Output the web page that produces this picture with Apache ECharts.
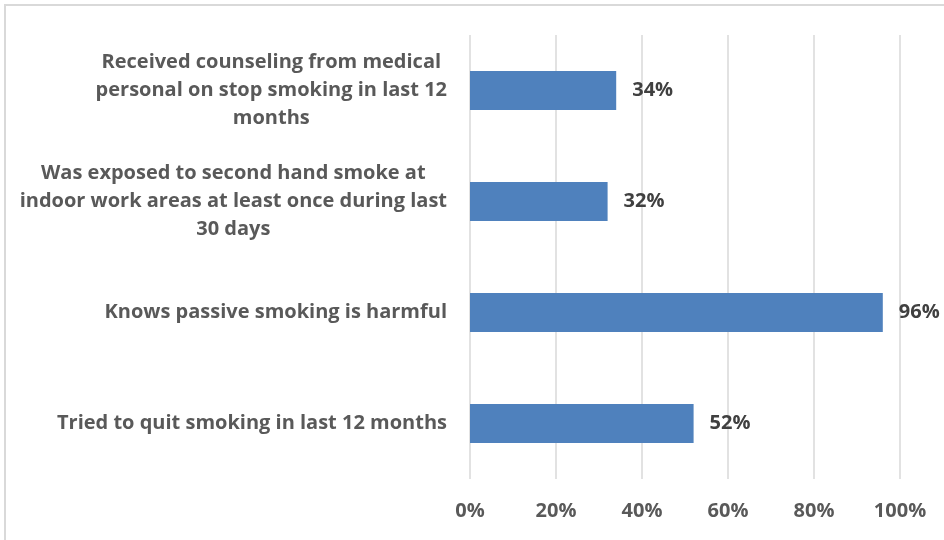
<!DOCTYPE html>
<html>
<head>
<meta charset="utf-8">
<script src="https://cdn.jsdelivr.net/npm/echarts@6/dist/echarts.min.js"></script>
<style>
  html, body { margin: 0; padding: 0; background: #fff; }
  #chart { width: 944px; height: 540px; }
</style>
</head>
<body>
<div id="chart"></div>
<script>
// categories top to bottom, line breaks as wrapped in the picture
const categories = [
  'Received counseling from medical\npersonal on stop smoking in last 12\nmonths',
  'Was exposed to second hand smoke at\nindoor work areas at least once during last\n30 days',
  'Knows passive smoking is harmful',
  'Tried to quit smoking in last 12 months'
]
const values = [34, 32, 96, 52]
const xTicks = [0, 20, 40, 60, 80, 100]

const fontFamily = '"Open Sans", sans-serif'

const chart = echarts.init(document.getElementById('chart'))

chart.setOption({
  animation: false,
  graphic: [{
    type: 'rect',
    shape: { x: 5, y: 5, width: 960, height: 560 },
    style: { fill: 'none', stroke: '#d9d9d9', lineWidth: 2 },
    silent: true
  }],
  grid: {
    left: 470,
    right: 44,
    top: 35,
    bottom: 61
  },
  xAxis: {
    type: 'value',
    min: xTicks[0],
    max: xTicks[xTicks.length - 1],
    interval: 20,
    axisLine: { show: false },
    axisTick: { show: false },
    splitLine: { lineStyle: { color: '#d9d9d9', width: 1.5 } },
    axisLabel: {
      margin: 22,
      color: '#595959',
      fontFamily: fontFamily,
      fontWeight: 'bold',
      fontSize: 20,
      formatter: v => v + '%'
    }
  },
  yAxis: {
    type: 'category',
    inverse: true,
    data: categories,
    axisLine: { show: false },
    axisTick: { show: false },
    axisLabel: {
      margin: 23,
      align: 'right',
      formatter: v => v.split('\n').map(l => '{c|' + l + '}').join('\n'),
      rich: {
        c: {
          align: 'center',
          color: '#595959',
          fontFamily: fontFamily,
          fontWeight: 'bold',
          fontSize: 20,
          lineHeight: 28
        }
      }
    }
  },
  series: [{
    type: 'bar',
    data: values,
    barWidth: 39,
    itemStyle: { color: '#4f81bd' },
    label: {
      show: true,
      position: 'right',
      distance: 16,
      color: '#404040',
      fontFamily: fontFamily,
      fontWeight: 'bold',
      fontSize: 20,
      formatter: p => p.value + '%'
    }
  }]
})
</script>
</body>
</html>
